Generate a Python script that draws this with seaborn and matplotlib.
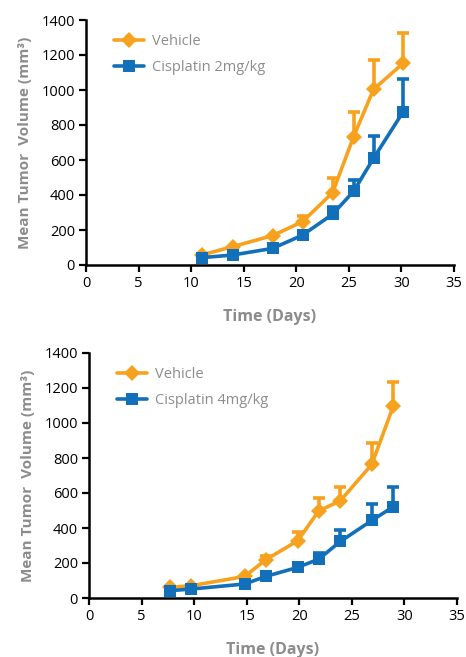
import matplotlib
matplotlib.use("Agg")
import matplotlib.pyplot as plt
import seaborn as sns
import pandas as pd
import numpy as np

# ---- data: top panel (Cisplatin 2 mg/kg) ----
days_top = [11.0, 13.95, 17.75, 20.6, 23.45, 25.45, 27.35, 30.15]
veh_top = [57, 105, 168, 248, 413, 733, 1004, 1152]
veh_top_err = [0, 0, 0, 280, 499, 872, 1171, 1326]
cis_top = [42, 57, 95, 171, 290, 421, 610, 874]
cis_top_err = [0, 0, 0, 195, 333, 484, 739, 1063]

# ---- data: bottom panel (Cisplatin 4 mg/kg) ----
days_bot = [7.7, 9.7, 14.8, 16.8, 19.85, 21.85, 23.9, 26.9, 28.95]
veh_bot = [61, 70, 123, 218, 327, 498, 555, 764, 1098]
veh_bot_err = [0, 0, 0, 241, 378, 574, 636, 883, 1235]
cis_bot = [42, 51, 80, 123, 175, 222, 323, 443, 522]
cis_bot_err = [0, 0, 0, 0, 0, 260, 389, 538, 633]

labels_top = ["Vehicle", "Cisplatin 2mg/kg"]
labels_bot = ["Vehicle", "Cisplatin 4mg/kg"]
xticks = [0, 5, 10, 15, 20, 25, 30, 35]
yticks = [0, 200, 400, 600, 800, 1000, 1200, 1400]

ORANGE = "#F7A21E"
BLUE = "#1170B9"
GRAY = "#8C8C8C"

sns.set_theme(style="ticks")
plt.rcParams["font.family"] = ["Open Sans", "DejaVu Sans"]

fig = plt.figure(figsize=(4.66, 6.57), dpi=100)
W, H = 466, 657
ax1 = fig.add_axes([86 / W, 1 - 265 / H, (454 - 86) / W, (265 - 20) / H])
ax2 = fig.add_axes([89 / W, 1 - 598 / H, (457 - 89) / W, (598 - 353) / H])


def panel(ax, days, veh, veh_err, cis, cis_err, labels):
    df = pd.DataFrame({
        "day": list(days) * 2,
        "vol": list(veh) + list(cis),
        "group": [labels[0]] * len(days) + [labels[1]] * len(days),
    })
    # error bars (upper only)
    for vals, tops, col in [(veh, veh_err, ORANGE), (cis, cis_err, BLUE)]:
        v = np.array(vals, float)
        t = np.array(tops, float)
        up = np.where(t > v, t - v, 0)
        mask = up > 0
        ax.errorbar(np.array(days)[mask], v[mask],
                    yerr=[np.zeros(mask.sum()), up[mask]],
                    fmt="none", ecolor=col, elinewidth=2.6, capsize=4,
                    capthick=2.6, zorder=2)
    sns.lineplot(data=df, x="day", y="vol", hue="group", style="group",
                 palette={labels[0]: ORANGE, labels[1]: BLUE},
                 markers={labels[0]: "D", labels[1]: "s"},
                 dashes=False, linewidth=2.6, markersize=8.5,
                 markeredgewidth=0, ax=ax, zorder=3)
    ax.set_xlim(0, 35)
    ax.set_ylim(0, 1400)
    ax.set_xticks(xticks)
    ax.set_yticks(yticks)
    ax.tick_params(axis="both", labelsize=10.5, colors="black", width=1.6,
                   length=5, direction="out", pad=3)
    for s in ["top", "right"]:
        ax.spines[s].set_visible(False)
    for s in ["left", "bottom"]:
        ax.spines[s].set_linewidth(1.8)
        ax.spines[s].set_color("black")
    ax.set_xlabel("Time (Days)", fontsize=11.5, fontweight="bold", color=GRAY,
                  labelpad=13)
    ax.set_ylabel("Mean Tumor  Volume (mm³)", fontsize=11,
                  fontweight="bold", color=GRAY, labelpad=7)
    leg = ax.legend(loc="upper left", bbox_to_anchor=(0.04, 0.995),
                    frameon=False, fontsize=10.5, handlelength=2.1,
                    labelspacing=0.75, handletextpad=0.5)
    for t in leg.get_texts():
        t.set_color(GRAY)


panel(ax1, days_top, veh_top, veh_top_err, cis_top, cis_top_err, labels_top)
panel(ax2, days_bot, veh_bot, veh_bot_err, cis_bot, cis_bot_err, labels_bot)

fig.savefig("out.png", dpi=100)
